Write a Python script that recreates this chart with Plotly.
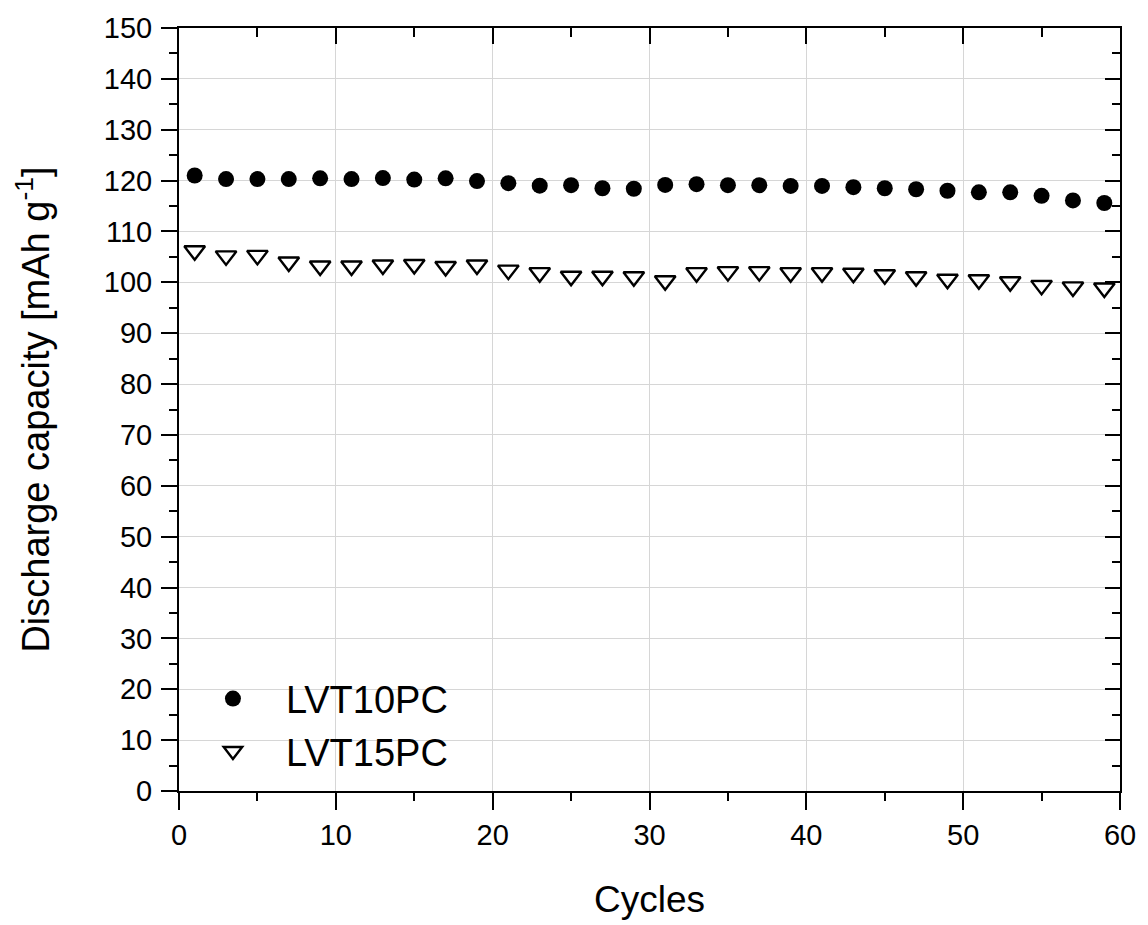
import plotly.graph_objects as go

cycles = [1, 3, 5, 7, 9, 11, 13, 15, 17, 19, 21, 23, 25, 27, 29,
          31, 33, 35, 37, 39, 41, 43, 45, 47, 49, 51, 53, 55, 57, 59]
lvt10pc = [121.0, 120.3, 120.3, 120.3, 120.45, 120.3, 120.5, 120.2, 120.45, 119.9,
           119.5, 119.0, 119.1, 118.5, 118.4,
           119.15, 119.3, 119.1, 119.1, 118.95, 118.95, 118.7, 118.5, 118.3, 118.0,
           117.7, 117.7, 117.0, 116.1, 115.6]
lvt15pc = [106.2, 105.2, 105.3, 104.0, 103.2, 103.2, 103.4, 103.5, 103.1, 103.4,
           102.4, 101.9, 101.2, 101.2, 101.1,
           100.3, 101.9, 102.1, 102.1, 101.9, 101.9, 101.8, 101.5, 101.1, 100.6,
           100.5, 100.1, 99.4, 99.1, 98.9]

x_range = [0, 60]
y_range = [0, 150]

FONT = "Liberation Sans, Arial, sans-serif"

fig = go.Figure()
fig.add_trace(go.Scatter(
    x=cycles, y=lvt10pc, mode="markers", name="LVT10PC", legendgroup="a",
    marker=dict(symbol="circle", size=16, color="black", line=dict(width=0)),
))
fig.add_trace(go.Scatter(
    x=cycles, y=lvt15pc, mode="markers", name="LVT15PC", legendgroup="b",
    marker=dict(symbol="triangle-down-open", size=18, color="black", line=dict(width=2.4, color="black")),
))
# empty trace to activate mirrored axes with inward ticks
fig.add_trace(go.Scatter(x=[], y=[], xaxis="x2", yaxis="y2", showlegend=False, hoverinfo="skip"))

axis_common = dict(showline=True, linecolor="black", linewidth=2, zeroline=False)

fig.update_layout(
    width=1148, height=925,
    margin=dict(l=179, r=26, t=24, b=130),
    paper_bgcolor="white", plot_bgcolor="white",
    font=dict(family=FONT, color="black", size=29),
    xaxis=dict(
        range=x_range, dtick=10, tick0=0, ticks="outside", ticklen=17, tickwidth=2, tickcolor="black",
        showgrid=True, gridcolor="#d6d6d6", gridwidth=1.2,
        minor=dict(dtick=5, ticks="outside", ticklen=8, tickwidth=2, tickcolor="black", showgrid=False),
        title=dict(text="Cycles", font=dict(size=37), standoff=36),
        tickfont=dict(size=29),
        **axis_common,
    ),
    yaxis=dict(
        range=y_range, dtick=10, tick0=0, ticks="outside", ticklen=16, tickwidth=2, tickcolor="black",
        showgrid=True, gridcolor="#d6d6d6", gridwidth=1.2, ticklabelstandoff=3,
        minor=dict(dtick=5, ticks="outside", ticklen=8, tickwidth=2, tickcolor="black", showgrid=False),
        title=dict(text="Discharge capacity [mAh g<sup>-1</sup>]", font=dict(size=38), standoff=43),
        tickfont=dict(size=29),
        **axis_common,
    ),
    xaxis2=dict(
        range=x_range, dtick=10, tick0=0, overlaying="x", side="top", anchor="y",
        ticks="inside", ticklen=16, tickwidth=2, tickcolor="black", showticklabels=False,
        showgrid=False, minor=dict(dtick=5, ticks="inside", ticklen=9, tickwidth=2, tickcolor="black", showgrid=False),
        **axis_common,
    ),
    yaxis2=dict(
        range=y_range, dtick=10, tick0=0, overlaying="y", side="right", anchor="x",
        ticks="inside", ticklen=15, tickwidth=2, tickcolor="black", showticklabels=False,
        showgrid=False, minor=dict(dtick=5, ticks="inside", ticklen=8, tickwidth=2, tickcolor="black", showgrid=False),
        **axis_common,
    ),
    legend=dict(
        x=0.001, y=0.162, xanchor="left", yanchor="top",
        bgcolor="rgba(0,0,0,0)", borderwidth=0,
        font=dict(size=38), itemwidth=96, tracegroupgap=0,
    ),
    showlegend=True,
)

fig.write_html("out.html")
